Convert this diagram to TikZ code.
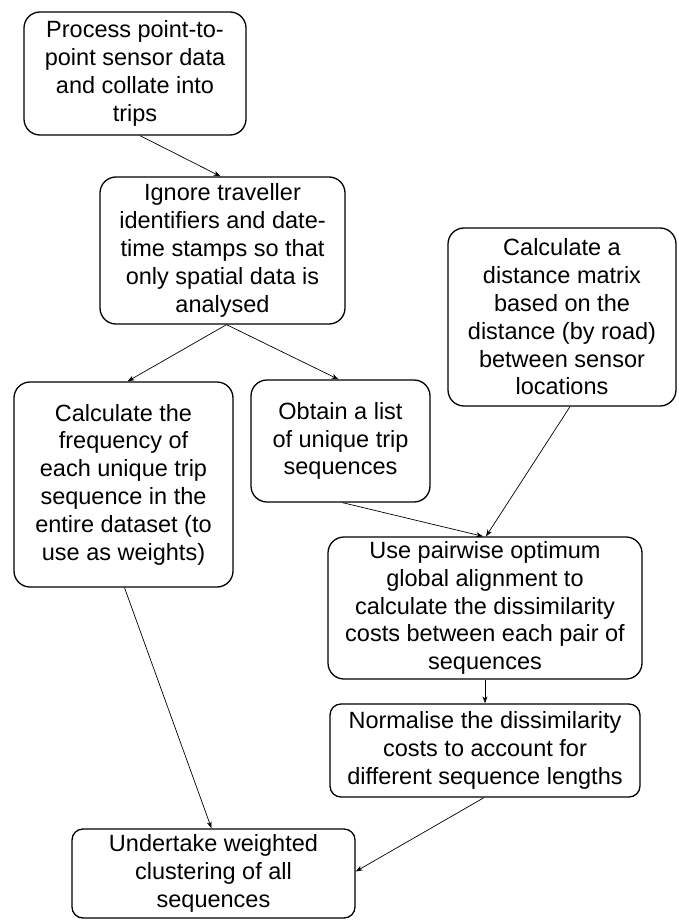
\documentclass[tikz,border=0pt]{standalone}
\usepackage{fontspec}
\setmainfont{Liberation Sans}
\usetikzlibrary{arrows.meta,calc}
\begin{document}
\begin{tikzpicture}[x=1pt,y=-1pt,
  box/.style={draw=black,line width=1.3pt,rounded corners=16pt,align=center,
    inner sep=0pt,font=\fontsize{23.5}{27.8}\selectfont},
  smallbox/.style={box,rounded corners=11pt},
  conn/.style={line width=0.7pt,-{Stealth[length=7pt,width=5pt]}}]
\useasboundingbox[fill=white] (0,0) rectangle (679,920);
\node[box,minimum width=222pt,minimum height=123pt] (b1) at (135,73.5)
  {Process point-to-\\point sensor data\\and collate into\\trips};
\node[box,minimum width=245pt,minimum height=147pt] (b2) at (222.5,250.5)
  {Ignore traveller\\identifiers and date-\\time stamps so that\\only spatial data is\\analysed};
\node[box,minimum width=219pt,minimum height=205pt] (b3) at (123.5,484.5)
  {Calculate the\\frequency of\\each unique trip\\sequence in the\\entire dataset (to\\use as weights)};
\node[box,minimum width=179pt,minimum height=122pt] (b4) at (340.5,441)
  {Obtain a list\\of unique trip\\sequences};
\node[box,minimum width=228pt,minimum height=178pt] (b5) at (562,317)
  {Calculate a\\distance matrix\\based on the\\distance (by road)\\between sensor\\locations};
\node[box,minimum width=314pt,minimum height=142pt] (b6) at (485,608)
  {Use pairwise optimum\\global alignment to\\calculate the dissimilarity\\costs between each pair of\\sequences};
\node[smallbox,minimum width=310pt,minimum height=93pt] (b7) at (485,750.5)
  {Normalise the dissimilarity\\costs to account for\\different sequence lengths};
\node[smallbox,minimum width=283pt,minimum height=89pt] (b8) at (213.5,873.5)
  {Undertake weighted\\clustering of all\\sequences};
\draw[conn] ([xshift=5pt]b1.south) -- ([xshift=-2pt]b2.north);
\draw[conn] ([xshift=4pt]b2.south) -- ([xshift=4pt]b3.north);
\draw[conn] ([xshift=4pt]b2.south) -- ([xshift=-2pt]b4.north);
\draw[conn] ([xshift=2pt]b4.south) -- ([xshift=-2pt]b6.north);
\draw[conn] ([xshift=8pt]b5.south) -- ([xshift=1pt]b6.north);
\draw[conn] (b6.south) -- (b7.north);
\draw[conn] ([xshift=1pt]b3.south) -- ([xshift=-2pt]b8.north);
\draw[conn] ([xshift=-1pt]b7.south) -- ([yshift=2pt]b8.east);
\end{tikzpicture}
\end{document}
